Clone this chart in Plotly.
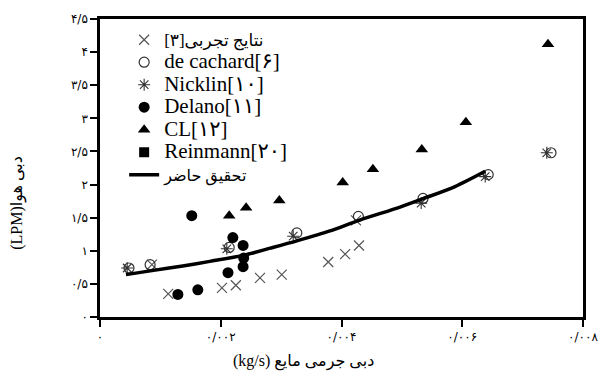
import plotly.graph_objects as go

# Experimental data: liquid mass flow (kg/s) vs. air flow (LPM)
exp3_x = [0.00086, 0.00113, 0.00202, 0.00225, 0.00265, 0.00301, 0.00378, 0.00406, 0.00429, 0.00424]
exp3_y = [0.79, 0.35, 0.44, 0.48, 0.59, 0.64, 0.83, 0.95, 1.08, 1.46]

cachard_x = [0.00048, 0.00083, 0.00214, 0.00326, 0.00428, 0.00535, 0.00643, 0.00747]
cachard_y = [0.74, 0.79, 1.05, 1.27, 1.52, 1.79, 2.15, 2.48]

nicklin_x = [0.00045, 0.00210, 0.00320, 0.00532, 0.00638, 0.00740]
nicklin_y = [0.74, 1.03, 1.22, 1.72, 2.12, 2.48]

delano_x = [0.00129, 0.00162, 0.00152, 0.00220, 0.00237, 0.00238, 0.00237, 0.00212]
delano_y = [0.34, 0.41, 1.53, 1.20, 1.08, 0.89, 0.76, 0.67]

cl_x = [0.00214, 0.00242, 0.00297, 0.00402, 0.00452, 0.00533, 0.00606, 0.00742]
cl_y = [1.53, 1.65, 1.76, 2.03, 2.23, 2.53, 2.94, 4.12]

# No Reinmann points fall in this range; kept for the legend entry
reinmann_x = [None]
reinmann_y = [None]

# Present-study model curve
model_x = [0.00043, 0.00086, 0.00137, 0.00182, 0.00237, 0.00282, 0.00326,
           0.00381, 0.00429, 0.00497, 0.00533, 0.00588, 0.00638]
model_y = [0.64, 0.70, 0.77, 0.84, 0.93, 1.04, 1.15, 1.30, 1.46, 1.66, 1.78, 1.97, 2.20]

# Axis ticks (Persian digits)
x_tickvals = [0, 0.002, 0.004, 0.006, 0.008]
x_ticktext = ["۰", "۰/۰۰۲", "۰/۰۰۴", "۰/۰۰۶", "۰/۰۰۸"]
y_tickvals = [0, 0.5, 1, 1.5, 2, 2.5, 3, 3.5, 4, 4.5]
y_ticktext = ["۰", "۰/۵", "۱", "۱/۵", "۲", "۲/۵", "۳", "۳/۵", "۴", "۴/۵"]

names = ["نتایج تجربی[۳]", "de cachard[۶]", "Nicklin[۱۰]", "Delano[۱۱]",
         "CL[۱۲]", "Reinmann[۲۰]", "تحقیق حاضر"]


def lbl(t, size=21):
    return f'<span style="font-size:{size}px">{t}</span>'


fig = go.Figure()
fig.add_trace(go.Scatter(x=exp3_x, y=exp3_y, mode="markers", name=lbl(names[0], 17),
                         marker=dict(symbol="x-thin-open", size=10, color="#555",
                                     line=dict(width=1.2, color="#555"))))
fig.add_trace(go.Scatter(x=cachard_x, y=cachard_y, mode="markers", name=lbl(names[1]),
                         marker=dict(symbol="circle-open", size=10, color="#333",
                                     line=dict(width=1.2, color="#333"))))
fig.add_trace(go.Scatter(x=nicklin_x, y=nicklin_y, mode="markers", name=lbl(names[2]),
                         marker=dict(symbol="asterisk-open", size=10, color="#333",
                                     line=dict(width=1.1, color="#333"))))
fig.add_trace(go.Scatter(x=delano_x, y=delano_y, mode="markers", name=lbl(names[3]),
                         marker=dict(symbol="circle", size=11, color="black")))
fig.add_trace(go.Scatter(x=cl_x, y=cl_y, mode="markers", name=lbl(names[4]),
                         marker=dict(symbol="triangle-up", size=11, color="black")))
fig.add_trace(go.Scatter(x=reinmann_x, y=reinmann_y, mode="markers", name=lbl(names[5]),
                         marker=dict(symbol="square", size=10, color="black")))
fig.add_trace(go.Scatter(x=model_x, y=model_y, mode="lines", name=lbl(names[6], 16),
                         line=dict(color="black", width=3.5, shape="spline", smoothing=0.8)))

axis_common = dict(showgrid=False, zeroline=False, showline=True, mirror=True,
                   linecolor="black", linewidth=2.5, ticks="outside", ticklen=7,
                   tickwidth=2, tickcolor="black", automargin=False,
                   tickfont=dict(family="DejaVu Sans", size=12, color="black"))

fig.update_xaxes(range=[0, 0.008], tickvals=x_tickvals, ticktext=x_ticktext, **axis_common)
fig.update_yaxes(range=[0, 4.5], tickvals=y_tickvals, ticktext=y_ticktext, **axis_common)

fig.update_layout(
    width=600, height=385,
    margin=dict(l=100, r=17, t=19, b=68),
    paper_bgcolor="white", plot_bgcolor="white",
    font=dict(family="Liberation Serif, DejaVu Sans", color="black"),
    legend=dict(x=0.05, y=0.985, xanchor="left", yanchor="top",
                bgcolor="rgba(0,0,0,0)", font=dict(size=15, family="Liberation Serif, DejaVu Sans"),
                itemsizing="trace"),
    annotations=[
        dict(text="(kg/s) دبی جرمی مایع", x=0.422, y=-0.148, xref="paper", yref="paper",
             xanchor="center", yanchor="middle", showarrow=False,
             font=dict(size=16, family="Liberation Serif, DejaVu Sans")),
        dict(text="(LPM)دبی هوا", x=-0.17, y=0.383, xref="paper", yref="paper",
             xanchor="center", yanchor="middle", showarrow=False, textangle=-90,
             font=dict(size=16, family="Liberation Serif, DejaVu Sans")),
    ],
)

fig.write_html("out.html")
